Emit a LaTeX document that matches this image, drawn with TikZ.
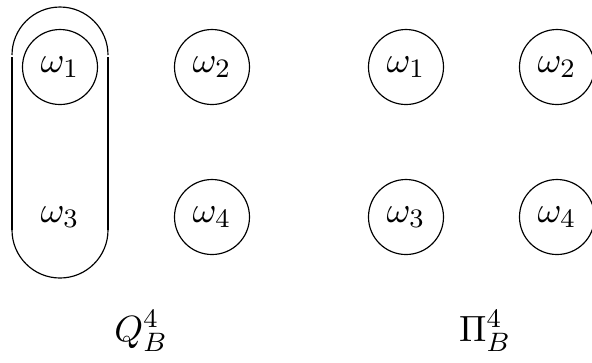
\documentclass[tikz,border=0pt]{standalone}
\begin{document}
\begin{tikzpicture}[x=0.3pt,y=0.3pt,
  state/.style={draw,circle,minimum size=22.5pt,inner sep=0pt,line width=0.35pt,font=\fontsize{11}{13}\selectfont},
  plain/.style={inner sep=0pt,font=\fontsize{11}{13}\selectfont},
  lab/.style={inner sep=0pt,font=\fontsize{11}{13}\selectfont}]
\useasboundingbox (0,0) rectangle (592,362);
% left part
\node[state] (a1) at (60,295) {$\omega_1$};
\node[state] (a2) at (212,295) {$\omega_2$};
\node[plain] (a3) at (60,145) {$\omega_3$};
\node[state] (a4) at (212,145) {$\omega_4$};
% right part
\node[state] (b1) at (406,295) {$\omega_1$};
\node[state] (b2) at (557,295) {$\omega_2$};
\node[state] (b3) at (406,145) {$\omega_3$};
\node[state] (b4) at (557,145) {$\omega_4$};
% stadium around omega1, omega3
\draw[line width=0.35pt] (12,307) arc[start angle=180,end angle=0,radius=48];
\draw[line width=0.35pt] (12,132) arc[start angle=180,end angle=360,radius=48];
\draw[line width=0.7pt] (12,305) -- (12,132);
\draw[line width=0.7pt] (108,305) -- (108,132);
% labels
\node[lab] (q) at (141,31) {$Q_B^4$};
\node[lab] (p) at (485,31) {$\Pi_B^4$};
\end{tikzpicture}
\end{document}
